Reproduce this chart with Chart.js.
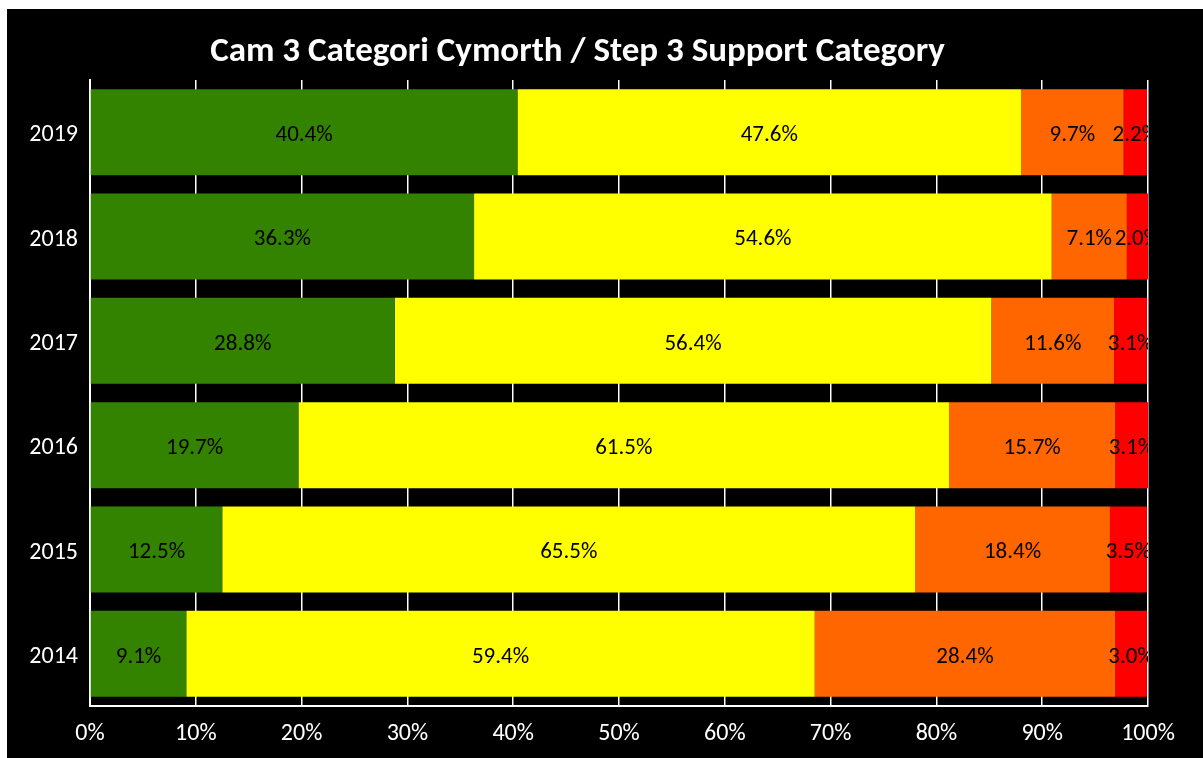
<!DOCTYPE html>
<html>
<head>
<meta charset="utf-8">
<script src="https://cdn.jsdelivr.net/npm/chart.js@4/dist/chart.umd.min.js"></script>
<style>
    html, body { margin: 0; padding: 0; background: #fff; }
    #wrap { position: absolute; left: 7px; top: 9px; width: 1196px; height: 749px; background: #000; }
</style>
</head>
<body>
<div id="wrap"><canvas id="chart"></canvas></div>
<script>
const years = ['2019', '2018', '2017', '2016', '2015', '2014'];
const seriesNames = ['Green', 'Yellow', 'Amber', 'Red'];
const green = [40.4, 36.3, 28.8, 19.7, 12.5, 9.1];
const yellow = [47.6, 54.6, 56.4, 61.5, 65.5, 59.4];
const amber = [9.7, 7.1, 11.6, 15.7, 18.4, 28.4];
const red = [2.2, 2.0, 3.1, 3.1, 3.5, 3.0];
const xTicks = [0, 10, 20, 30, 40, 50, 60, 70, 80, 90, 100];

const fontFamily = 'Carlito, Calibri, Lato, sans-serif';
const colors = ['#338300', '#ffff00', '#ff6600', '#ff0000'];

// centred value labels, clipped to the plot area like the original
const valueLabels = {
    id: 'valueLabels',
    afterDatasetsDraw(chart) {
        const ctx = chart.ctx;
        const area = chart.chartArea;
        ctx.save();
        ctx.beginPath();
        ctx.rect(area.left, area.top, area.right - area.left, area.bottom - area.top);
        ctx.clip();
        ctx.fillStyle = '#000';
        ctx.font = '23px ' + fontFamily;
        ctx.textAlign = 'center';
        ctx.textBaseline = 'middle';
        chart.data.datasets.forEach((ds, i) => {
            chart.getDatasetMeta(i).data.forEach((bar, j) => {
                const x = (bar.x + bar.base) / 2;
                ctx.fillText(ds.data[j].toFixed(1) + '%', x, bar.y + 3);
            });
        });
        ctx.restore();
    }
};

new Chart(document.getElementById('chart'), {
    type: 'bar',
    data: {
        labels: years,
        datasets: [green, yellow, amber, red].map((d, i) => ({
            label: seriesNames[i],
            data: d,
            backgroundColor: colors[i],
            borderWidth: 0,
            barPercentage: 0.825,
            categoryPercentage: 1
        }))
    },
    options: {
        indexAxis: 'y',
        responsive: true,
        maintainAspectRatio: false,
        animation: false,
        layout: { padding: { top: 0, right: 55, left: 0, bottom: 0 } },
        plugins: {
            legend: { display: false },
            tooltip: { enabled: false },
            title: {
                display: true,
                text: 'Cam 3 Categori Cymorth / Step 3 Support Category',
                color: '#fff',
                font: { family: fontFamily, size: 35, weight: 'bold' },
                padding: { top: 22, bottom: 7 }
            }
        },
        scales: {
            x: {
                stacked: true,
                min: 0,
                max: 100,
                afterBuildTicks(scale) {
                    scale.ticks = xTicks.map(v => ({ value: v }));
                },
                afterFit(scale) { scale.height = 52; },
                grid: { color: '#fff', lineWidth: 1.5, drawTicks: false },
                border: { color: '#fff', width: 2 },
                ticks: {
                    color: '#fff',
                    padding: 14,
                    font: { family: fontFamily, size: 24 },
                    callback: v => v + '%'
                }
            },
            y: {
                stacked: true,
                afterFit(scale) { scale.width = 83; },
                grid: { display: false, drawTicks: false },
                border: { color: '#fff', width: 2 },
                ticks: {
                    color: '#fff',
                    padding: 12,
                    labelOffset: 3,
                    font: { family: fontFamily, size: 24 }
                }
            }
        }
    },
    plugins: [valueLabels]
});
</script>
</body>
</html>
